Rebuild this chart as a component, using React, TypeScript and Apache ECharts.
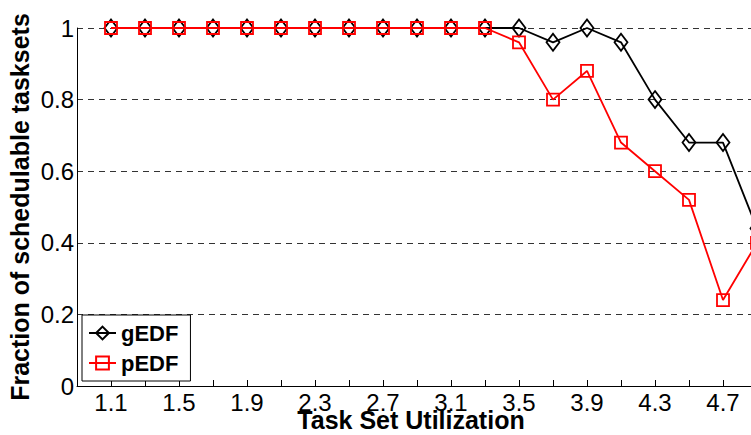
import React, { useEffect, useRef } from "react";
import * as echarts from "echarts";

const utilization = [1.1, 1.3, 1.5, 1.7, 1.9, 2.1, 2.3, 2.5, 2.7, 2.9, 3.1, 3.3, 3.5, 3.7, 3.9, 4.1, 4.3, 4.5, 4.7, 4.9];
const gEDF = [1, 1, 1, 1, 1, 1, 1, 1, 1, 1, 1, 1, 1, 0.96, 1, 0.96, 0.8, 0.68, 0.68, 0.44];
const pEDF = [1, 1, 1, 1, 1, 1, 1, 1, 1, 1, 1, 1, 0.96, 0.8, 0.88, 0.68, 0.6, 0.52, 0.24, 0.4];
const xTickLabels = ["1.1", "1.5", "1.9", "2.3", "2.7", "3.1", "3.5", "3.9", "4.3", "4.7"];
const yTickLabels = ["0", "0.2", "0.4", "0.6", "0.8", "1"];

const FONT = "'Liberation Sans', Arial, Helvetica, sans-serif";

export default function App() {
  const ref = useRef<HTMLDivElement>(null);
  useEffect(() => {
    if (!ref.current) return;
    const chart = echarts.init(ref.current, null, { renderer: "svg" });
    chart.setOption({
      animation: false,
      backgroundColor: "#fff",
      textStyle: { fontFamily: FONT },
      grid: {
        left: 77,
        top: 28,
        width: 680,
        height: 358,
        outerBoundsMode: "none",
        containLabel: false,
      },
      legend: {
        orient: "vertical",
        left: 82,
        top: 315,
        itemWidth: 27,
        itemHeight: 16,
        itemGap: 6,
        padding: [6, 12, 6, 6],
        backgroundColor: "#fff",
        borderColor: "#000",
        borderWidth: 1,
        borderRadius: 0,
        textStyle: { color: "#000", fontSize: 22, fontWeight: "bold", fontFamily: FONT, lineHeight: 24 },
        data: ["gEDF", "pEDF"],
      },
      xAxis: {
        type: "value",
        min: 0.9,
        max: 4.9,
        interval: 0.2,
        name: "Task Set Utilization",
        nameLocation: "middle",
        nameGap: 21,
        nameMoveOverlap: false,
        nameTextStyle: { color: "#000", fontSize: 25, fontWeight: "bold", fontFamily: FONT, padding: [0, 12, 0, 0] },
        axisLine: { show: true, lineStyle: { color: "#000", width: 1 } },
        axisTick: { show: true, inside: true, length: 6, lineStyle: { color: "#000", width: 1 } },
        axisLabel: {
          color: "#000",
          fontSize: 24,
          fontFamily: FONT,
          margin: 4,
          showMinLabel: true,
          showMaxLabel: true,
          hideOverlap: false,
          formatter: (v: number) => {
            const s = v.toFixed(1);
            return xTickLabels.indexOf(s) >= 0 ? s : "";
          },
        },
        splitLine: { show: false },
      },
      yAxis: {
        type: "value",
        min: 0,
        max: 1,
        interval: 0.2,
        name: "Fraction of schedulable tasksets",
        nameLocation: "middle",
        nameRotate: 90,
        nameGap: 45,
        nameMoveOverlap: false,
        nameTextStyle: { color: "#000", fontSize: 25, fontWeight: "bold", fontFamily: FONT },
        axisLine: { show: true, lineStyle: { color: "#000", width: 1 } },
        axisTick: { show: false },
        axisLabel: {
          color: "#000",
          fontSize: 24,
          fontFamily: FONT,
          margin: 3,
          formatter: (v: number) => {
            const s = String(Math.round(v * 10) / 10);
            return yTickLabels.indexOf(s) >= 0 ? s : "";
          },
        },
        splitLine: { show: true, lineStyle: { color: "#333", width: 1, type: [6, 5] } },
      },
      series: [
        {
          name: "gEDF",
          type: "line",
          data: utilization.map((x, i) => [x, gEDF[i]]),
          symbol: "diamond",
          symbolSize: [13, 17],
          lineStyle: { color: "#000", width: 1.8 },
          itemStyle: { color: "transparent", borderColor: "#000", borderWidth: 1.8 },
          emphasis: { disabled: true },
          z: 2,
        },
        {
          name: "pEDF",
          type: "line",
          data: utilization.map((x, i) => [x, pEDF[i]]),
          symbol: "rect",
          symbolSize: 12,
          lineStyle: { color: "#ff0000", width: 1.8 },
          itemStyle: { color: "transparent", borderColor: "#ff0000", borderWidth: 1.8 },
          emphasis: { disabled: true },
          z: 3,
        },
      ],
    });
    return () => chart.dispose();
  }, []);
  return (
    <div
      ref={ref}
      style={{ position: "fixed", left: 0, top: 0, width: 751, height: 435, background: "#fff" }}
    />
  );
}
